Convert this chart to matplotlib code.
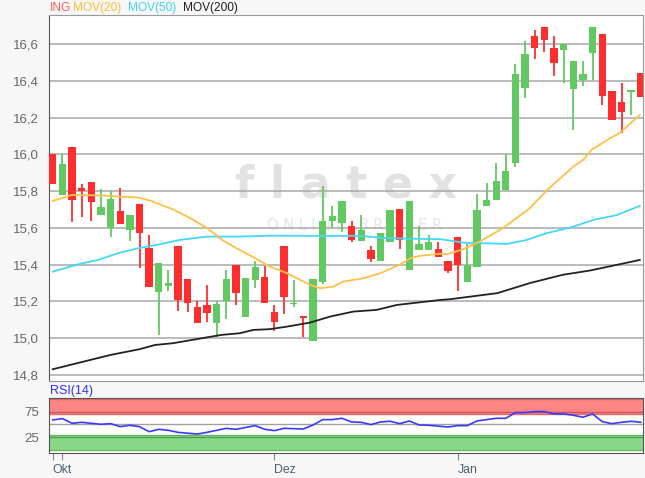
import numpy as np
import matplotlib
matplotlib.use("Agg")
import matplotlib.pyplot as plt

plt.rcParams['font.family'] = ['Liberation Sans', 'DejaVu Sans']

# OHLC, one candle per trading slot
opens = [16.00, 15.78, 16.04, 15.82, 15.85, 15.67, 15.60, 15.69, 15.59, 15.73,
         15.49, 15.25, 15.286, 15.50, 15.32, 15.17, 15.18, 15.08, 15.205, 15.40,
         15.118, 15.314, 15.335, 15.145, 15.504, 15.185, 15.118, 14.985, 15.305, 15.637,
         15.626, 15.608, 15.528, 15.48, 15.42, 15.526, 15.704, 15.372, 15.482, 15.482,
         15.486, 15.419, 15.55, 15.305, 15.39, 15.72, 15.753, 15.807, 15.952, 16.364,
         16.647, 16.696, 16.582, 16.566, 16.357, 16.404, 16.551, 16.656, 16.346, 16.288,
         16.339, 16.446]
highs = [16.00, 16.00, 16.04, 15.84, 15.85, 15.81, 15.80, 15.82, 15.67, 15.73,
         15.56, 15.41, 15.37, 15.50, 15.32, 15.205, 15.29, 15.20, 15.37, 15.40,
         15.328, 15.42, 15.395, 15.18, 15.504, 15.314, 15.118, 15.323, 15.83, 15.72,
         15.746, 15.637, 15.673, 15.504, 15.57, 15.698, 15.704, 15.749, 15.608, 15.562,
         15.522, 15.419, 15.55, 15.513, 15.785, 15.847, 15.956, 16.00, 16.49, 16.615,
         16.678, 16.696, 16.645, 16.60, 16.509, 16.509, 16.696, 16.656, 16.346, 16.391,
         16.351, 16.446]
lows = [15.84, 15.78, 15.63, 15.66, 15.64, 15.67, 15.55, 15.62, 15.53, 15.38,
        15.28, 15.02, 15.256, 15.15, 15.14, 15.08, 15.087, 15.005, 15.105, 15.18,
        15.118, 15.274, 15.19, 15.04, 15.132, 15.168, 15.009, 14.985, 15.295, 15.60,
        15.577, 15.522, 15.528, 15.413, 15.42, 15.526, 15.486, 15.372, 15.482, 15.482,
        15.44, 15.354, 15.259, 15.305, 15.39, 15.72, 15.753, 15.807, 15.934, 16.306,
        16.52, 16.56, 16.428, 16.388, 16.134, 16.37, 16.406, 16.27, 16.188, 16.115,
        16.215, 16.311]
closes = [15.84, 15.95, 15.75, 15.80, 15.74, 15.715, 15.76, 15.62, 15.67, 15.57,
          15.28, 15.41, 15.30, 15.21, 15.19, 15.08, 15.136, 15.187, 15.323, 15.246,
          15.328, 15.386, 15.19, 15.087, 15.226, 15.19, 15.112, 15.323, 15.64, 15.666,
          15.746, 15.535, 15.59, 15.432, 15.57, 15.698, 15.535, 15.749, 15.51, 15.522,
          15.44, 15.364, 15.399, 15.399, 15.695, 15.753, 15.858, 15.912, 16.44, 16.547,
          16.578, 16.624, 16.497, 16.60, 16.509, 16.437, 16.696, 16.319, 16.188, 16.233,
          16.351, 16.311]

# moving averages, read at selected candle positions
ma20_x = [0, 2, 5.6, 7, 8.7, 10.1, 12.5, 14.2, 16, 17.7, 19.4, 21, 22.5, 24.3, 26.7,
          27.7, 29.1, 30.1, 32.2, 34, 36, 37.1, 38.1, 40.2, 40.9, 42.6, 44.3, 46.7,
          49.5, 51.3, 54, 55, 55.9, 57.8, 58.8, 60.9]
ma20_y = [15.747, 15.78, 15.776, 15.77, 15.767, 15.749, 15.70, 15.655, 15.60, 15.53,
          15.48, 15.435, 15.39, 15.354, 15.29, 15.272, 15.28, 15.308, 15.326, 15.354,
          15.40, 15.435, 15.448, 15.46, 15.457, 15.484, 15.526, 15.599, 15.708, 15.807,
          15.934, 15.97, 16.025, 16.088, 16.116, 16.215]
ma50_x = [0, 2.7, 4.7, 6.8, 8.9, 10.8, 13.2, 16, 19.4, 22.5, 27.7, 31.9, 34.6, 40.2,
          42.6, 47.1, 49.2, 51.2, 53.8, 56.1, 58.5, 60.9]
ma50_y = [15.362, 15.403, 15.426, 15.463, 15.49, 15.508, 15.535, 15.553, 15.553, 15.558,
          15.557, 15.557, 15.544, 15.539, 15.52, 15.513, 15.535, 15.571, 15.604, 15.644,
          15.67, 15.72]
ma200_x = [0, 6, 9, 10.6, 12.5, 17.5, 19.4, 20.8, 22.5, 24.3, 26.7, 28.8, 31.2, 33.6,
           35.7, 40.2, 41.2, 46.1, 49.5, 52.9, 55.7, 58.5, 60.9]
ma200_y = [14.831, 14.909, 14.94, 14.963, 14.973, 15.018, 15.027, 15.045, 15.049, 15.063,
           15.085, 15.118, 15.145, 15.154, 15.181, 15.208, 15.212, 15.245, 15.30, 15.345,
           15.368, 15.399, 15.426]

# RSI(14)
rsi_x = [0, 1, 2, 3, 4, 5, 6, 7, 8, 9, 10, 11, 12, 13, 15, 16, 18, 19, 21, 22, 23, 24,
         26, 27, 28, 29, 30, 31, 32, 33, 34, 35, 36, 37, 38, 39, 41, 42, 43, 44, 45, 46,
         47, 48, 49, 50, 51, 52, 53, 54, 55, 56, 57, 58, 59, 60, 61]
rsi_y = [58.8, 61.4, 52.3, 54.2, 52.3, 50.3, 51.6, 45.8, 48.4, 45.8, 36.0, 40.6, 38.6,
         34.7, 31.4, 34.7, 42.5, 40.6, 47.7, 40.6, 38.0, 42.5, 41.2, 49.0, 59.4, 59.4,
         62.0, 54.9, 54.2, 49.7, 54.9, 56.2, 51.6, 56.8, 49.0, 48.4, 45.1, 47.7, 47.7,
         56.8, 59.4, 62.0, 62.0, 73.1, 73.1, 75.0, 75.0, 70.5, 70.5, 67.9, 64.0, 70.5,
         55.5, 51.6, 54.2, 56.2, 54.2]

price_ticks = [14.8, 15.0, 15.2, 15.4, 15.6, 15.8, 16.0, 16.2, 16.4, 16.6]
month_pos = [0, 1, 23, 42]
month_labels = ['Okt', '', 'Dez', 'Jan']

UP = '#62c962'
DOWN = '#ff2e2e'
W, H = 645, 478

fig = plt.figure(figsize=(W / 100, H / 100), dpi=100)
fig.patch.set_facecolor('#f7f7f7')

ax = fig.add_axes([48.6 / W, 1 - 381 / H, (643.3 - 48.6) / W, (381 - 15) / H])
ax2 = fig.add_axes([48.6 / W, 1 - 453.3 / H, (643.3 - 48.6) / W, (453.3 - 397.7) / H])

xlim = (-0.43, 61.26)

# price panel
ax.set_facecolor('white')
for v in price_ticks:
    ax.axhline(v, color='#a8a8a8', lw=1.1, zorder=1)

# flatex watermark
ax.text(0.5, 0.535, 'f l a t e x', transform=ax.transAxes, ha='center', va='center',
        fontsize=32, color='#e2e2e2', family='DejaVu Sans', fontweight='bold', zorder=0)
ax.text(0.515, 0.426, 'O N L I N E   B R O K E R', transform=ax.transAxes, ha='center',
        va='center', fontsize=10.5, color='#e6e6e6', family='DejaVu Sans', zorder=0)

o = np.array(opens)
c = np.array(closes)
idx = np.arange(len(o))
colors = [UP if cc >= oo else DOWN for oo, cc in zip(o, c)]
ax.vlines(idx, lows, highs, colors=colors, lw=1.3, zorder=3)
body_bottom = np.minimum(o, c)
body_h = np.maximum(np.abs(c - o), 0.008)
ax.bar(idx, body_h, bottom=body_bottom, width=0.76, color=colors, zorder=4, linewidth=0)

ax.plot(ma200_x, ma200_y, color='#222222', lw=1.3, zorder=5)
ax.plot(ma50_x, ma50_y, color='#45d7f7', lw=1.3, zorder=5)
ax.plot(ma20_x, ma20_y, color='#ffc04a', lw=1.3, zorder=5)

ax.set_xlim(*xlim)
ax.set_ylim(14.767, 16.759)
ax.set_yticks(price_ticks)
ax.set_yticklabels([('%.1f' % v).replace('.', ',') for v in price_ticks])
ax.tick_params(axis='y', length=0, pad=7, labelsize=9.5, labelcolor='#666666')
ax.set_xticks([])
for s in ['top', 'right', 'bottom']:
    ax.spines[s].set_color('#9a9a9a')
ax.spines['left'].set_color('#555555')

# header legend
fig.text(49.5 / W, 1 - 8 / H, 'ING', color='#ff6060', fontsize=8.6, va='center')
fig.text(73.3 / W, 1 - 8 / H, 'MOV(20)', color='#ffbe3a', fontsize=8.6, va='center')
fig.text(128 / W, 1 - 8 / H, 'MOV(50)', color='#3fd3f5', fontsize=8.6, va='center')
fig.text(182.7 / W, 1 - 8 / H, 'MOV(200)', color='#222222', fontsize=8.6, va='center')

# RSI panel
ax2.set_facecolor('white')
ax2.axhspan(70, 100, color='#ff8585', lw=0, zorder=1)
ax2.axhspan(0, 30, color='#88d888', lw=0, zorder=1)
for v in [70, 100]:
    ax2.axhline(v, color='#e06a6a', lw=1, zorder=2)
ax2.axhline(75, color='#c85a5a', lw=1, zorder=2)
for v in [0, 30]:
    ax2.axhline(v, color='#66b866', lw=1, zorder=2)
ax2.axhline(25, color='#4f9f4f', lw=1, zorder=2)
ax2.axhline(50, color='#a0a0a0', lw=1, zorder=2)
ax2.plot(rsi_x, rsi_y, color='#3a3aff', lw=1.2, zorder=3)
ax2.set_xlim(*xlim)
ax2.set_ylim(-6, 102)
ax2.set_yticks([25, 75])
ax2.tick_params(axis='y', length=0, pad=7, labelsize=9.5, labelcolor='#666666')
ax2.set_xticks(month_pos)
ax2.set_xticklabels(month_labels, ha='left')
ax2.tick_params(axis='x', length=5, color='#7a8a9a', labelsize=8.8, labelcolor='#4f5f70', pad=3)
for s in ax2.spines.values():
    s.set_color('#555555')
fig.text(49.5 / W, 1 - 391 / H, 'RSI(14)', color='#3030ff', fontsize=9, va='center')

fig.savefig('out.png', dpi=100, facecolor=fig.get_facecolor())
